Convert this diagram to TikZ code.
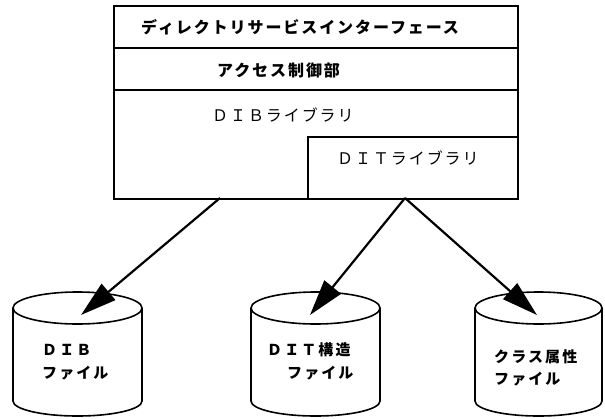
\documentclass[tikz,border=0pt]{standalone}
\usepackage{fontspec}
\usetikzlibrary{arrows.meta}
\newfontfamily\jpls[LetterSpace=12]{Noto Sans CJK JP}
\newfontfamily\jplt[LetterSpace=14]{Noto Sans CJK JP}
\tikzset{
  frame/.style={line width=1.8pt, line join=miter},
  lbl/.style={inner sep=0pt, anchor=west, font=\jpls\fontsize{16}{18}\selectfont},
  lblb/.style={lbl, font=\jpls\bfseries\fontsize{16}{18}\selectfont},
  clbl/.style={inner sep=0pt, anchor=west, font=\jplt\bfseries\fontsize{15}{17}\selectfont},
  link/.style={line width=2.2pt, -{Triangle[length=36pt,width=21pt]}},
  drum/.style={line width=1.6pt, fill=white}
}
\newcommand{\drumshape}[2]{% left x, right x
  \pgfmathsetmacro{\cx}{(#1+#2)/2}
  \pgfmathsetmacro{\rx}{(#2-#1)/2}
  \draw[drum] (#1,308) -- (#1,401) arc[start angle=180,end angle=360,x radius=\rx,y radius=-15] -- (#2,308);
  \draw[drum] (\cx,308) ellipse[x radius=\rx,y radius=16];
}
\begin{document}
\begin{tikzpicture}[x=1pt,y=-1pt]
\useasboundingbox (0,0) rectangle (605,418);
% main box
\node[frame, draw, rectangle, minimum width=404pt, minimum height=193pt, anchor=north west, inner sep=0pt] (sys) at (113,5) {};
\draw[frame] (113,48) -- (517,48);
\draw[frame] (113,90) -- (517,90);
\draw[frame] (308,198) -- (308,137) -- (517,137);
\node[lblb] (dsi) at (141,27) {ディレクトリサービスインターフェース};
\node[lblb] (acc) at (217,70) {アクセス制御部};
\node[lbl] (dib) at (212,115) {ＤＩＢライブラリ};
\node[lbl] (dit) at (337,158) {ＤＩＴライブラリ};
% cylinders
\drumshape{13}{142}
\drumshape{251}{380}
\drumshape{475}{602}
\node[clbl] (f1a) at (42,350) {ＤＩＢ};
\node[clbl] (f1b) at (42,373) {ファイル};
\node[clbl] (f2a) at (267,350) {ＤＩＴ構造};
\node[clbl] (f2b) at (287,373) {ファイル};
\node[clbl] (f3a) at (494,357) {クラス属性};
\node[clbl] (f3b) at (494,379) {ファイル};
% connectors
\coordinate (s1) at (220,198);
\coordinate (s2) at (405,198);
\coordinate (t1) at (81,315);
\coordinate (t2) at (310,315);
\coordinate (t3) at (537,315);
\draw[link] (s1) -- (t1);
\draw[link] (s2) -- (t2);
\draw[link] (s2) -- (t3);
\end{tikzpicture}
\end{document}
